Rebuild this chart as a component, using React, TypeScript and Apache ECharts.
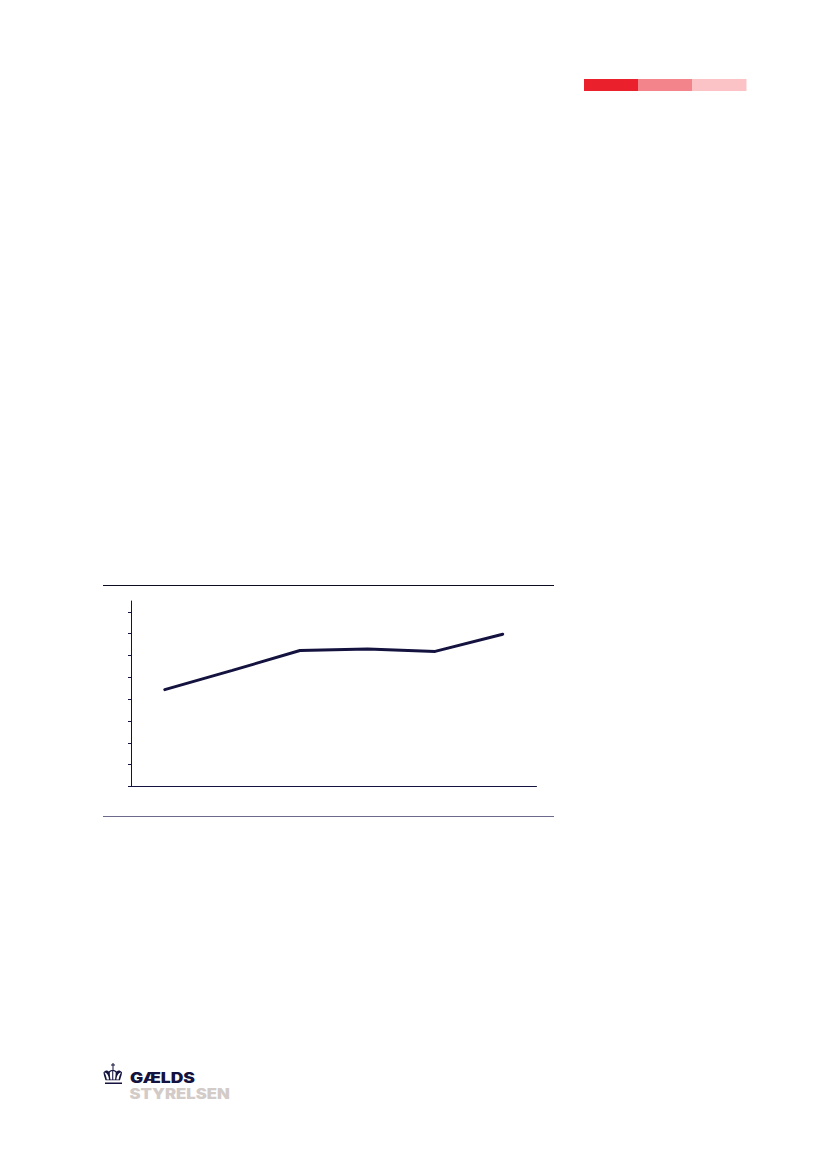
import React, { useEffect, useRef } from "react";
import * as echarts from "echarts";

const categories = ["1", "2", "3", "4", "5", "6"];
const values = [4.44, 5.32, 6.23, 6.3, 6.19, 6.98];
const tickValues = [0, 1, 2, 3, 4, 5, 6, 7, 8];
const logoTop = "GÆLDS";
const logoBottom = "STYRELSEN";
const navy = "#14123f";

const crownPath =
  "M0 3 C3 0 6 0 8 2 C10 0.5 12 0 14 0 C16 0 18 0.5 20 2 C22 0 25 0 28 3 C28 7 26 10 25 14 L3 14 C2 10 0 7 0 3 Z";
const crownHoles =
  "M1.5 3.5 C3 6 4.5 9 5 13 L8.5 13 C8 9 6 4 1.5 3.5 Z " +
  "M9.5 3.5 C9.5 6 10 10 10.5 13 L13.2 13 L13.2 1.5 C12 1.5 10.5 2.5 9.5 3.5 Z " +
  "M14.8 1.5 L14.8 13 L17.5 13 C18 10 18.5 6 18.5 3.5 C17.5 2.5 16 1.5 14.8 1.5 Z " +
  "M26.5 3.5 C22 4 20 9 19.5 13 L23 13 C23.5 9 25 6 26.5 3.5 Z";
echarts.graphic.registerShape("crownShape", echarts.graphic.extendPath(crownPath, {}) as any);
echarts.graphic.registerShape("crownHoles", echarts.graphic.extendPath(crownHoles, {}) as any);

export default function App() {
  const ref = useRef<HTMLDivElement>(null);
  useEffect(() => {
    const chart = echarts.init(ref.current!, null, { renderer: "svg" });
    chart.setOption({
      animation: false,
      backgroundColor: "#ffffff",
      grid: { left: 131, right: 827 - 536.5, top: 601, height: 185.5 },
      xAxis: {
        type: "category",
        data: categories,
        boundaryGap: true,
        axisLine: { lineStyle: { color: navy, width: 1 } },
        axisTick: { show: false },
        axisLabel: { show: false },
      },
      yAxis: {
        type: "value",
        min: 0,
        max: 8.5,
        interval: 1,
        splitLine: { show: false },
        axisLine: { show: true, lineStyle: { color: navy, width: 1 } },
        axisTick: { show: true, length: 3, customValues: tickValues, lineStyle: { color: navy, width: 1 } },
        axisLabel: { show: false },
      },
      series: [
        {
          type: "line",
          data: values,
          symbol: "none",
          lineStyle: { color: navy, width: 3, cap: "round" },
        },
      ],
      graphic: [
        { type: "rect", shape: { x: 584, y: 79, width: 54, height: 12 }, style: { fill: "#ea212d" } },
        { type: "rect", shape: { x: 638, y: 79, width: 54, height: 12 }, style: { fill: "#f4848b" } },
        { type: "rect", shape: { x: 692, y: 79, width: 54.5, height: 12 }, style: { fill: "#fcc3c7" } },
        { type: "line", shape: { x1: 103, y1: 585.5, x2: 554, y2: 585.5 }, style: { stroke: "#0c0c20", lineWidth: 1 } },
        { type: "line", shape: { x1: 103, y1: 816.5, x2: 554, y2: 816.5 }, style: { stroke: "#6b6a8c", lineWidth: 1 } },
        { type: "crownShape", x: 103.5, y: 1070, scaleX: 0.66, scaleY: 0.74, style: { fill: navy } },
        { type: "crownHoles", x: 103.5, y: 1070, scaleX: 0.66, scaleY: 0.74, style: { fill: "#ffffff" } },
        { type: "rect", shape: { x: 112.5, y: 1063, width: 1, height: 7 }, style: { fill: navy } },
        { type: "rect", shape: { x: 111, y: 1064.5, width: 4, height: 1 }, style: { fill: navy } },
        { type: "rect", shape: { x: 105, y: 1082.5, width: 17, height: 1.5 }, style: { fill: navy } },
        {
          type: "text",
          x: 130,
          y: 1071.5,
          scaleX: 1.25,
          style: { text: logoTop, fill: navy, font: "900 14px Inter, sans-serif" },
        },
        {
          type: "text",
          x: 129.5,
          y: 1086.5,
          scaleX: 1.19,
          style: { text: logoBottom, fill: "#d3cbc8", font: "900 14px Inter, sans-serif" },
        },
      ],
    });
    return () => chart.dispose();
  }, []);
  return <div ref={ref} style={{ position: "absolute", left: 0, top: 0, width: 827, height: 1169 }} />;
}
